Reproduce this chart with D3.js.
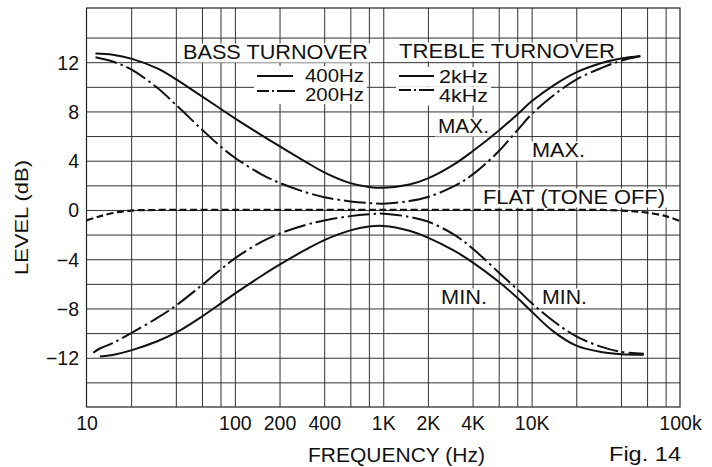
<!DOCTYPE html>
<html><head><meta charset="utf-8">
<script src="https://cdn.jsdelivr.net/npm/d3@7/dist/d3.min.js"></script>
<style>
html,body{margin:0;padding:0;background:#fff;}
svg{display:block;font-family:"Liberation Sans",Arial,Helvetica,sans-serif;}
</style></head><body>
<svg id="chart" width="712" height="467"></svg>
<script>
// ---- data ----
const freqMax = [11.5, 15, 20, 30, 40, 60, 80, 100, 150, 200, 300, 400, 600, 800, 1000, 1500, 2000, 3000, 4000, 6000, 8000, 10000, 14000, 20000, 30000, 40000, 54000];
const maxSolid = [12.7, 12.6, 12.29, 11.5, 10.63, 9.22, 8.22, 7.44, 6.1, 5.18, 3.91, 3.06, 2.18, 1.87, 1.8, 2.06, 2.56, 3.7, 4.77, 6.44, 7.75, 8.82, 10.1, 11.17, 11.95, 12.3, 12.5];
const maxDashDot = [12.4, 12.05, 11.42, 9.92, 8.55, 6.53, 5.16, 4.24, 2.92, 2.2, 1.44, 1.04, 0.69, 0.56, 0.51, 0.72, 1.05, 1.93, 2.87, 4.77, 6.46, 7.77, 9.3, 10.59, 11.56, 12.12, 12.48];
const freqMin = [11.1, 12.3, 15, 20, 30, 40, 60, 80, 100, 150, 200, 300, 400, 600, 800, 1000, 1500, 2000, 3000, 4000, 6000, 8000, 10000, 14000, 20000, 30000, 40000, 57000];
const minSolid = [null, -11.9, -11.77, -11.4, -10.66, -9.97, -8.65, -7.61, -6.79, -5.38, -4.44, -3.23, -2.45, -1.66, -1.35, -1.3, -1.69, -2.25, -3.31, -4.25, -5.83, -7.13, -8.25, -9.86, -11.02, -11.55, -11.71, -11.75];
const minDashDot = [-11.6, -11.25, -10.81, -10.0, -8.77, -7.77, -6.1, -4.85, -3.93, -2.61, -1.92, -1.22, -0.85, -0.5, -0.35, -0.3, -0.56, -0.94, -2.0, -3.13, -5.07, -6.44, -7.56, -9.02, -10.26, -11.14, -11.52, -11.67];
const freqFlat = [10, 12, 15, 20, 30, 100, 1000, 10000, 30000, 40000, 50000, 60000, 80000, 100000];
const flatDb = [-0.85, -0.55, -0.25, -0.05, 0, 0, 0, 0, 0, -0.05, -0.12, -0.22, -0.5, -0.9];
const gridFreqs = [20, 40, 60, 80, 100, 200, 400, 600, 800, 1000, 2000, 4000, 6000, 8000, 10000, 20000, 40000, 60000, 80000];
const gridDb = [-14, -12, -10, -8, -6, -4, -2, 0, 2, 4, 6, 8, 10, 12, 14];
const xTickValues = [10, 100, 200, 400, 1000, 2000, 4000, 10000, 100000];
const xTickLabels = ["10", "100", "200", "400", "1K", "2K", "4K", "10K", "100k"];
const yTickValues = [-12, -8, -4, 0, 4, 8, 12];

// ---- layout ----
const L = 86.5, R = 680, T = 8, B = 407;
const FS = 19.5;
const svg = d3.select("#chart");
const x = d3.scaleLog().domain([10, 100000]).range([L, R]);
const y = d3.scaleLinear().domain([-16, 16.4]).range([B, T]);

// grid
const gx = svg.append("g").attr("transform", `translate(0,${B})`)
  .call(d3.axisBottom(x).tickValues(gridFreqs).tickSize(-(B - T)).tickFormat(""));
gx.select(".domain").remove();
gx.selectAll("line").attr("stroke", "#333").attr("stroke-width", 1);
const gy = svg.append("g").attr("transform", `translate(${L},0)`)
  .call(d3.axisLeft(y).tickValues(gridDb).tickSize(-(R - L)).tickFormat(""));
gy.select(".domain").remove();
gy.selectAll("line").attr("stroke", "#333").attr("stroke-width", 1);
svg.append("rect").attr("x", L).attr("y", T).attr("width", R - L).attr("height", B - T)
  .attr("fill", "none").attr("stroke", "#222").attr("stroke-width", 1.2);

const bgLayer = svg.append("g");
const curveLayer = svg.append("g");
const textLayer = svg.append("g");
function label(txt, tx, ty, w, opts = {}) {
  const t = textLayer.append("text").attr("x", tx).attr("y", ty)
    .attr("font-size", opts.size || FS).attr("fill", "#111")
    .attr("text-anchor", opts.anchor || "start").text(txt);
  if (w) t.attr("textLength", w).attr("lengthAdjust", "spacingAndGlyphs");
  if (opts.bg) {
    const bb = t.node().getBBox();
    const x0 = (opts.bgx0 != null ? opts.bgx0 : bb.x) - 3;
    bgLayer.append("rect").attr("x", x0).attr("y", ty - 15.5)
      .attr("width", bb.x + bb.width + 3 - x0).attr("height", 19).attr("fill", "#fff");
  }
  return t;
}

// axes labels
const ax = svg.append("g").attr("transform", `translate(0,${B})`)
  .call(d3.axisBottom(x).tickValues(xTickValues).tickSize(0).tickFormat((d, i) => xTickLabels[i]));
ax.select(".domain").remove();
ax.selectAll("text").attr("y", 23).attr("dy", 0).attr("font-size", FS).attr("fill", "#111")
  .attr("font-family", "'Liberation Sans',Arial,sans-serif");
const ay = svg.append("g").attr("transform", `translate(${L},0)`)
  .call(d3.axisLeft(y).tickValues(yTickValues).tickSize(0));
ay.select(".domain").remove();
ay.selectAll("text").attr("x", -7.5).attr("dy", "0.36em").attr("font-size", FS).attr("fill", "#111")
  .attr("font-family", "'Liberation Sans',Arial,sans-serif");

// curves
function drawSeries(fr, vals, dash, width) {
  const pts = fr.map((f, i) => [f, vals[i]]);
  const line = d3.line().defined(d => d[1] != null)
    .x(d => x(d[0])).y(d => y(d[1])).curve(d3.curveCatmullRom.alpha(0.5));
  curveLayer.append("path").attr("d", line(pts)).attr("fill", "none")
    .attr("stroke", "#111").attr("stroke-width", width)
    .attr("stroke-dasharray", dash || null).attr("stroke-linecap", "butt");
}
drawSeries(freqFlat, flatDb, "7,3.5", 2.2);
drawSeries(freqMax, maxSolid, null, 2);
drawSeries(freqMax, maxDashDot, "22,4,2.5,4", 2);
drawSeries(freqMin, minSolid, null, 2);
drawSeries(freqMin, minDashDot, "22,4,2.5,4", 2);

// legend
const LFS = 17.5;
label("BASS TURNOVER", 183, 59, 185, {bg: true});
label("TREBLE TURNOVER", 399, 58, 216, {bg: true});
label("400Hz", 305, 81.5, 59, {bg: true, bgx0: 257, size: LFS});
label("200Hz", 305, 100.5, 59, {bg: true, bgx0: 257, size: LFS});
label("2kHz", 439, 82.5, 49, {bg: true, bgx0: 399, size: LFS});
label("4kHz", 439, 102, 49, {bg: true, bgx0: 399, size: LFS});
const lg = svg.append("g");
lg.append("line").attr("x1", 257).attr("x2", 293).attr("y1", 76).attr("y2", 76).attr("stroke", "#111").attr("stroke-width", 2);
lg.append("line").attr("x1", 257).attr("x2", 295).attr("y1", 91).attr("y2", 91).attr("stroke", "#111").attr("stroke-width", 2).attr("stroke-dasharray", "12,3,2,3,18");
lg.append("line").attr("x1", 399).attr("x2", 434).attr("y1", 76).attr("y2", 76).attr("stroke", "#111").attr("stroke-width", 2);
lg.append("line").attr("x1", 399).attr("x2", 434).attr("y1", 90).attr("y2", 90).attr("stroke", "#111").attr("stroke-width", 2).attr("stroke-dasharray", "12,3,2,3,18");

// annotations
label("MAX.", 438, 133, 51, {bg: true});
label("MAX.", 532, 157, 53, {bg: true});
label("FLAT (TONE OFF)", 483, 204, 182, {bg: true});
label("MIN.", 441, 304, 46, {bg: true});
label("MIN.", 542, 304, 45, {bg: true});

// axis titles
label("FREQUENCY (Hz)", 308, 462, 177);
label("Fig. 14", 609, 461, 72, {size: 21});
textLayer.append("text").attr("transform", "translate(28,217.5) rotate(-90)")
  .attr("text-anchor", "middle").attr("font-size", 18).attr("fill", "#111")
  .attr("textLength", 115).attr("lengthAdjust", "spacingAndGlyphs").text("LEVEL (dB)");
</script>
</body></html>
